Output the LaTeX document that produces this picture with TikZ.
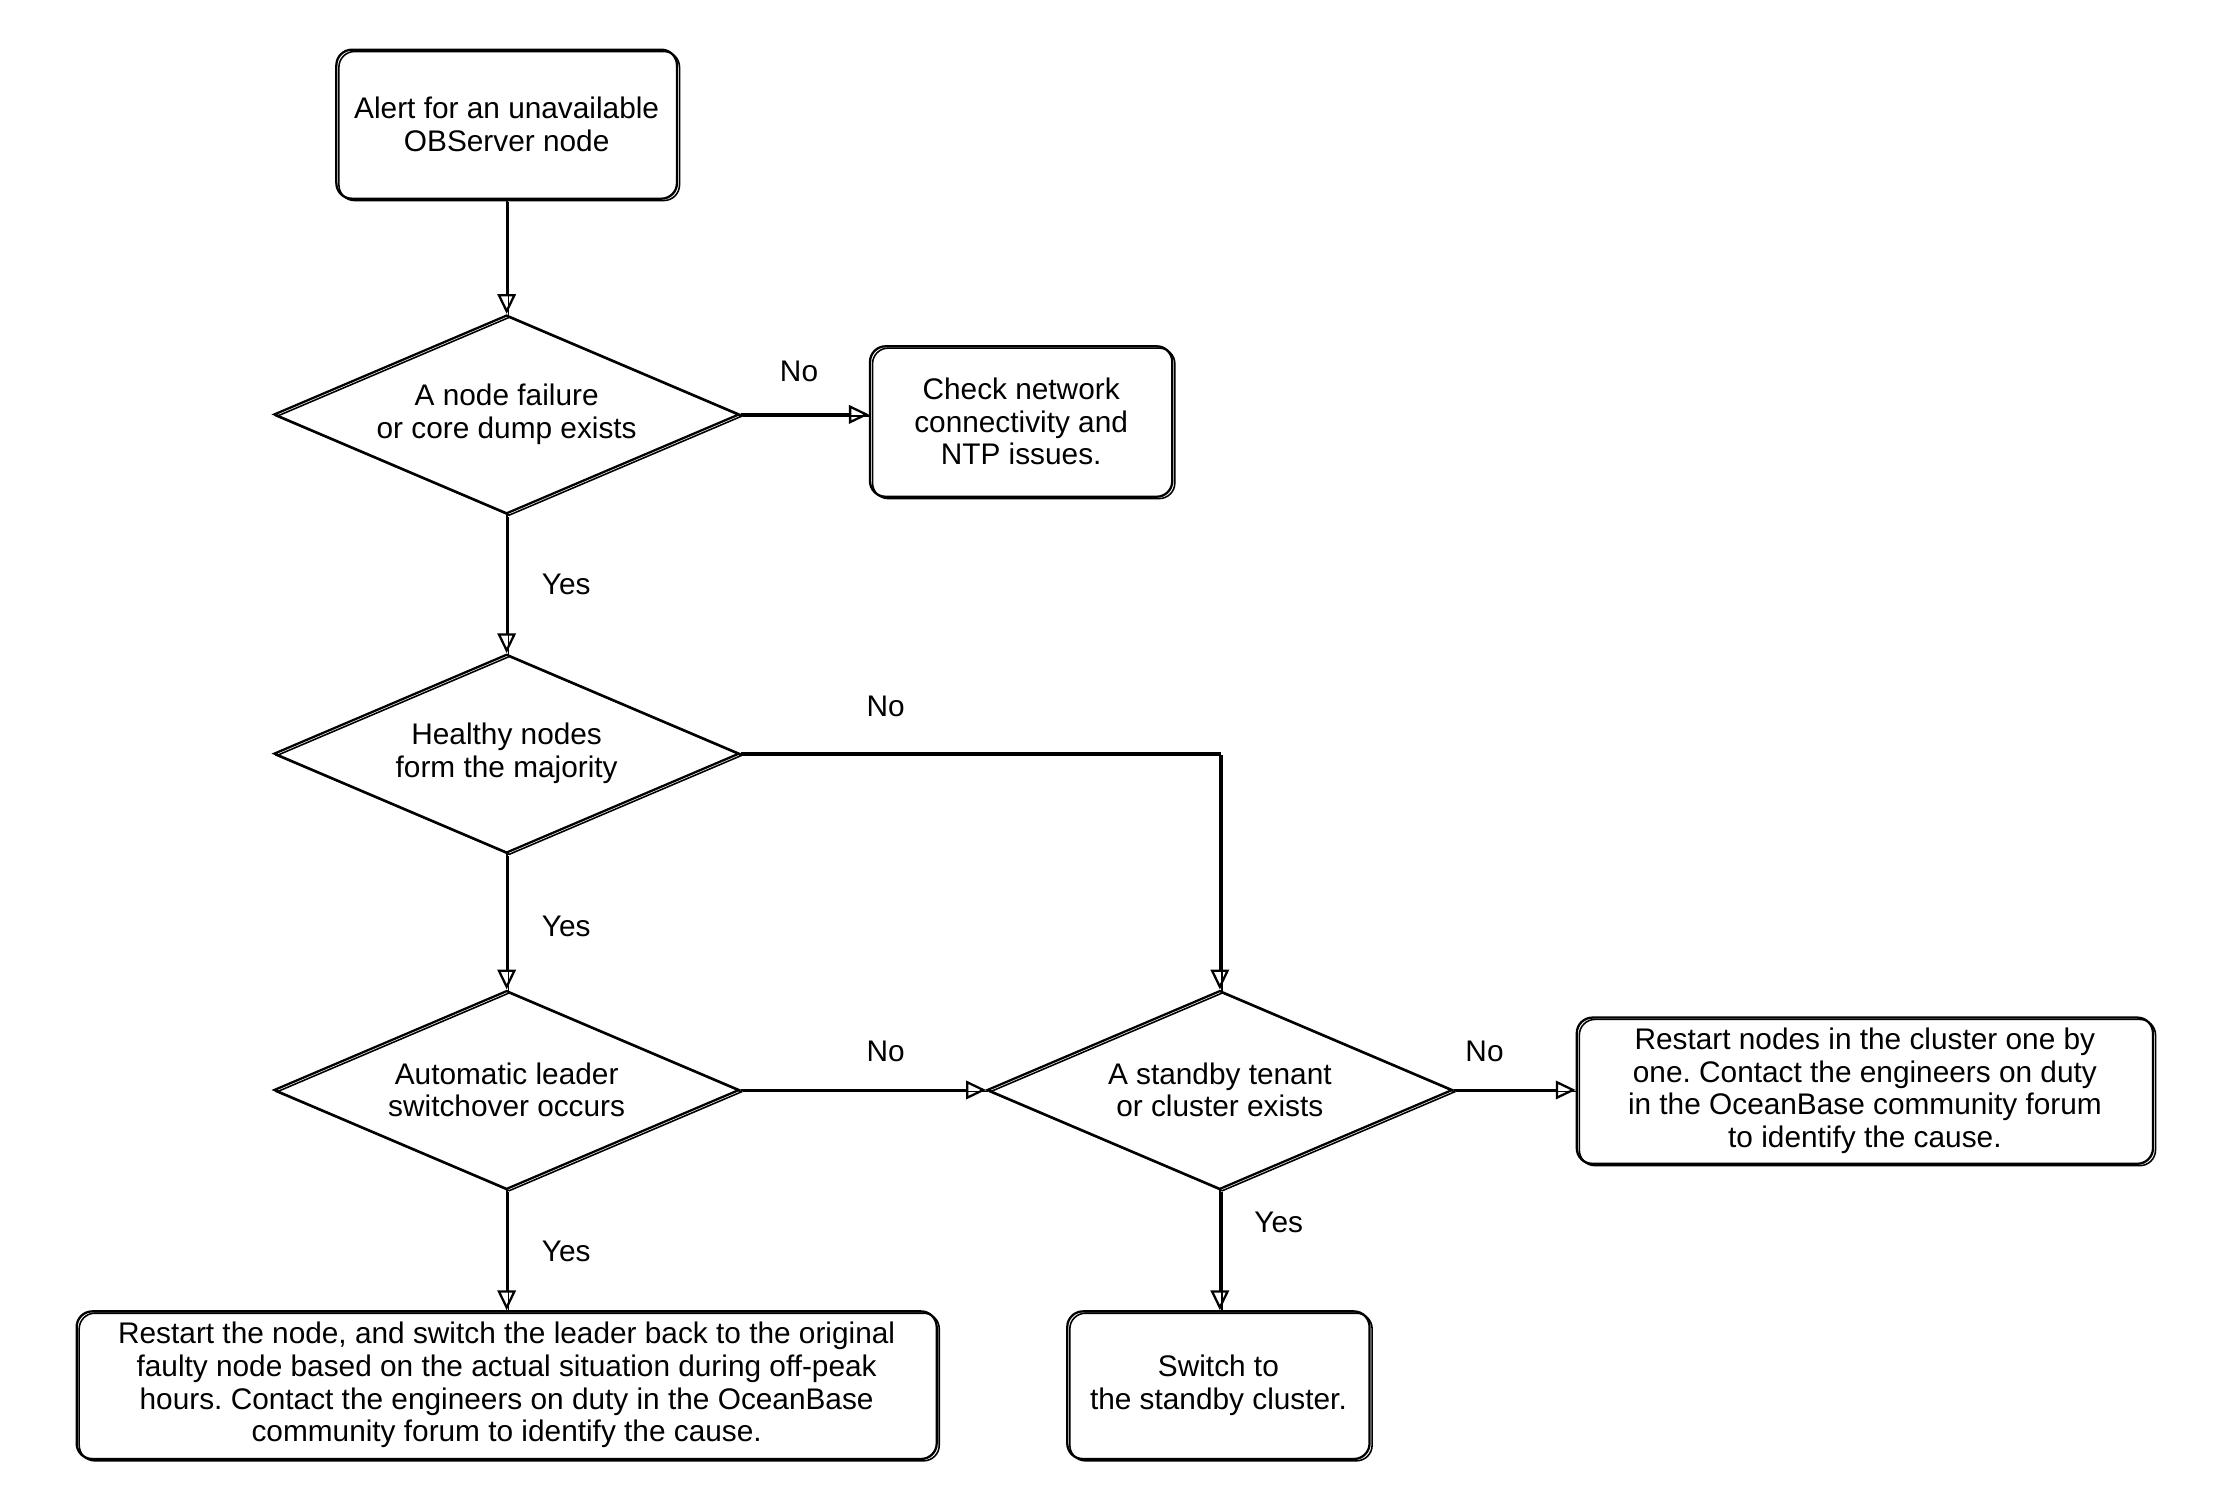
\documentclass[tikz,border=0pt]{standalone}
\usepackage{fontspec}
\setmainfont{Liberation Sans}
\usetikzlibrary{shapes.geometric, arrows.meta}
\frenchspacing
\begin{document}
\begin{tikzpicture}[x=1pt,y=-1pt,
  txt/.style={font=\fontsize{21}{23}\selectfont},
  sk/.style={line width=1.6pt, preaction={draw, line width=1.1pt, transform canvas={xshift=1.8pt,yshift=-1.3pt}}},
  box/.style={sk, draw, rectangle, rounded corners=11pt, align=center, inner sep=0pt, txt},
  dia/.style={sk, draw, diamond, aspect=2.34, inner sep=0pt, minimum width=328pt, minimum height=140pt, align=center, txt},
  lbl/.style={txt, inner sep=0pt},
  arr/.style={line width=1.6pt, -{Triangle[open, length=14pt, width=13pt, line width=1.6pt]},
    preaction={draw, line width=1pt, -, transform canvas={xshift=1.4pt,yshift=-1.2pt}}}
]
\useasboundingbox (0,0) rectangle (1560,1064);

\node[box, minimum width=240pt, minimum height=105pt] (alert) at (357,87.5) {Alert for an unavailable\\OBServer node};
\node[dia] (d1) at (357,292) {A node failure\\or core dump exists};
\node[box, minimum width=213pt, minimum height=106pt] (check) at (719.5,297) {Check network\\connectivity and\\NTP issues.};
\node[dia] (d2) at (357,531) {Healthy nodes\\form the majority};
\node[dia] (d3) at (357,768) {Automatic leader\\switchover occurs};
\node[dia] (d4) at (859.5,768) {A standby tenant\\or cluster exists};
\node[box, minimum width=406pt, minimum height=103pt] (restart) at (1314,768.5) {Restart nodes in the cluster one by\\one. Contact the engineers on duty\\in the OceanBase community forum\\to identify the cause.};
\node[box, minimum width=606pt, minimum height=104pt] (fail) at (357,976) {Restart the node, and switch the leader back to the original\\faulty node based on the actual situation during off-peak\\hours. Contact the engineers on duty in the OceanBase\\community forum to identify the cause.};
\node[box, minimum width=213pt, minimum height=104pt] (switch) at (858.5,976) {Switch to\\the standby cluster.};

\draw[arr] (alert) -- (d1);
\draw[arr] (d1.east) -- (check.west |- d1.east);
\draw[arr] (d1) -- (d2);
\draw[arr] (d2.east) -| (d4.north);
\draw[arr] (d2) -- (d3);
\draw[arr] (d3.east) -- (d4.west);
\draw[arr] (d4.east) -- (restart.west |- d4.east);
\draw[arr] (d3) -- (fail);
\draw[arr] (d4.south) -- (switch.north -| d4.south);

\node[lbl] (l1) at (563,262) {No};
\node[lbl] (l2) at (399,412) {Yes};
\node[lbl] (l3) at (624,498) {No};
\node[lbl] (l4) at (399,653) {Yes};
\node[lbl] (l5) at (624,741) {No};
\node[lbl] (l6) at (1046,741) {No};
\node[lbl] (l7) at (399,882) {Yes};
\node[lbl] (l8) at (901,861) {Yes};
\end{tikzpicture}
\end{document}
